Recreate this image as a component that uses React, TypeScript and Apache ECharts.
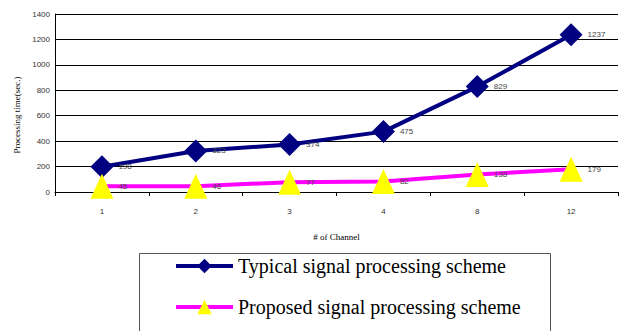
import React, { useEffect, useRef } from "react";
import * as echarts from "echarts";

const categories = ["1", "2", "3", "4", "8", "12"];
const typicalValues = [198, 323, 374, 475, 829, 1237];
const proposedValues = [45, 46, 77, 82, 138, 179];
const seriesNames = ["Typical signal processing scheme", "Proposed signal processing scheme"];

const SERIF = "'Liberation Serif', 'Times New Roman', serif";
const SANS = "'Liberation Sans', Arial, sans-serif";

export default function App() {
  const ref = useRef<HTMLDivElement>(null);
  useEffect(() => {
    const chart = echarts.init(ref.current!, null, { renderer: "svg" });
    const labelStyle = {
      show: true,
      position: "right" as const,
      distance: 5,
      fontSize: 8,
      color: "#444",
      fontFamily: SANS,
    };
    chart.setOption({
      animation: false,
      backgroundColor: "#fff",
      grid: { left: 55, right: 10, top: 14, bottom: 139 },
      xAxis: {
        type: "category",
        data: categories,
        boundaryGap: true,
        name: "# of Channel",
        nameLocation: "middle",
        nameGap: 40,
        nameTextStyle: { fontFamily: SERIF, fontSize: 9, color: "#000" },
        axisLine: { lineStyle: { color: "#000", width: 1 } },
        axisTick: { show: true, length: 4, inside: false, lineStyle: { color: "#000" } },
        axisLabel: { fontSize: 8, color: "#333", margin: 15, fontFamily: SANS },
      },
      yAxis: {
        type: "value",
        min: 0,
        max: 1400,
        interval: 200,
        name: "Processing time(sec.)",
        nameLocation: "middle",
        nameGap: 32,
        nameRotate: 90,
        nameTextStyle: { fontFamily: SERIF, fontSize: 9, color: "#000", padding: [0, 0, 0, -24] },
        axisLine: { show: true, lineStyle: { color: "#000", width: 1 } },
        axisTick: { show: false },
        splitLine: { show: true, lineStyle: { color: "#000", width: 1 } },
        axisLabel: {
          fontSize: 8,
          color: "#333",
          margin: 5,
          fontFamily: SANS,
          formatter: (v: number) => String(v),
        },
      },
      legend: {
        orient: "vertical",
        left: 174,
        top: 256,
        padding: 0,
        itemWidth: 57,
        itemHeight: 18,
        itemGap: 21,
        lineStyle: { width: 4 },
        textStyle: { fontFamily: SERIF, fontSize: 20, color: "#000" },
        data: seriesNames,
      },
      graphic: [
        {
          type: "rect",
          left: 137,
          top: 251,
          shape: { width: 411, height: 100 },
          style: { fill: "none", stroke: "#555", lineWidth: 1 },
        },
      ],
      series: [
        {
          name: seriesNames[0],
          type: "line",
          data: typicalValues,
          symbol: "diamond",
          symbolSize: 23,
          lineStyle: { color: "#000080", width: 4 },
          itemStyle: { color: "#000080" },
          label: labelStyle,
          z: 3,
        },
        {
          name: seriesNames[1],
          type: "line",
          data: proposedValues,
          symbol: "triangle",
          symbolSize: [23, 25],
          lineStyle: { color: "#FF00FF", width: 4 },
          itemStyle: { color: "#FFFF00" },
          label: labelStyle,
          z: 4,
        },
      ],
    });
    return () => chart.dispose();
  }, []);
  return (
    <div
      ref={ref}
      style={{ position: "fixed", left: 0, top: 0, width: 628, height: 331, background: "#fff" }}
    />
  );
}
